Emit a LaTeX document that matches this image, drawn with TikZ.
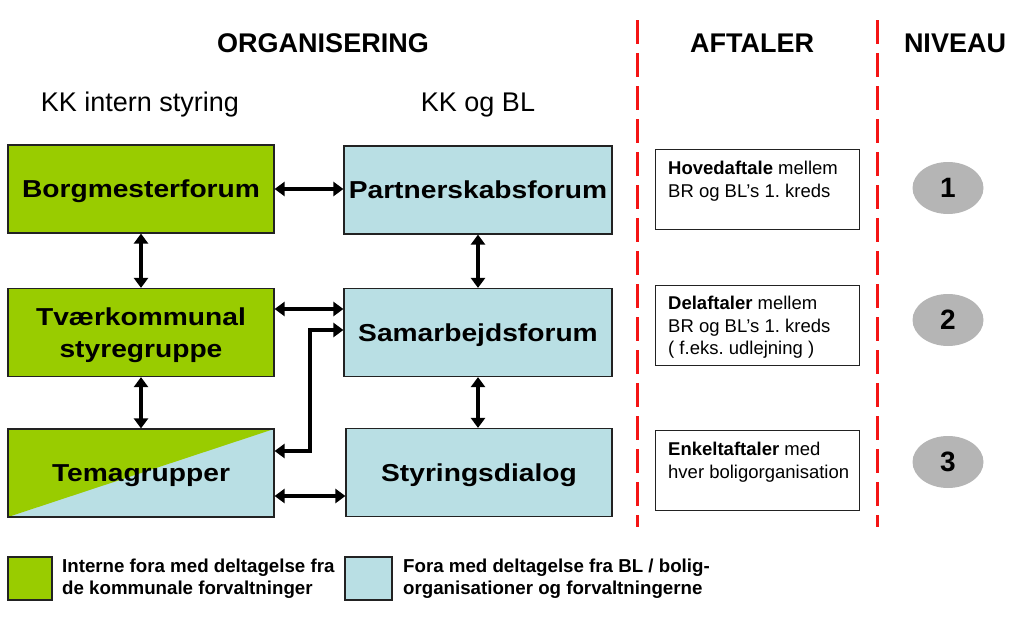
\documentclass[tikz,border=0pt]{standalone}
\usepackage{fontspec}
\setmainfont{Liberation Sans}
\newfontfamily\boxfont[FakeStretch=1.15]{Liberation Sans}
\usetikzlibrary{arrows.meta,shapes.geometric}
\frenchspacing
\definecolor{kgreen}{HTML}{99CC00}
\definecolor{kblue}{HTML}{B9DFE4}
\definecolor{kred}{HTML}{F41414}
\definecolor{kgray}{HTML}{B5B5B5}
\definecolor{kdark}{HTML}{222222}
\tikzset{
  forum/.style={draw=kdark, line width=1.2pt, minimum width=266pt, minimum height=88pt,
    inner sep=0pt, align=center, text=black, text depth=0pt,
    font=\boxfont\bfseries\fontsize{24.5}{32}\selectfont},
  greenbox/.style={forum, fill=kgreen},
  bluebox/.style={forum, fill=kblue},
  link/.style={line width=4pt, black,
    {Triangle[length=10pt,width=14pt]}-{Triangle[length=10pt,width=14pt]}},
  heading/.style={font=\bfseries\fontsize{27}{30}\selectfont},
  subheading/.style={font=\fontsize{27}{30}\selectfont},
  redline/.style={kred, line width=3pt, dash pattern=on 24pt off 9pt},
  agbox/.style={draw=kdark, line width=1pt, minimum width=204pt, minimum height=80pt, inner sep=0pt},
  agtext/.style={anchor=north west, inner sep=0pt, align=left, font=\fontsize{18.5}{22.5}\selectfont},
  level/.style={ellipse, fill=kgray, minimum width=71pt, minimum height=52pt, inner sep=0pt,
    font=\bfseries\fontsize{28}{30}\selectfont},
  legsq/.style={draw=kdark, line width=1.2pt, minimum width=44pt, minimum height=43pt, inner sep=0pt},
  legtext/.style={anchor=west, inner sep=0pt, align=left, font=\bfseries\fontsize{18.7}{21.5}\selectfont},
}
\begin{document}
\begin{tikzpicture}[x=1pt,y=-1pt]
\useasboundingbox (0,0) rectangle (1009,616);

% headings
\node[heading] (hOrg) at (323,43) {ORGANISERING};
\node[heading] (hAft) at (752,43) {AFTALER};
\node[heading] (hNiv) at (955,43) {NIVEAU};
\node[subheading] (hKK) at (140,105) {KK intern styring};
\node[subheading] (hBL) at (478,105) {KK og BL};

% forum boxes
\node[greenbox] (Borg) at (141,189) {Borgmesterforum};
\node[greenbox] (Tvaer) at (141,332.5) {Tværkommunal\\styregruppe};
\node[bluebox, path picture={\fill[kgreen] (path picture bounding box.north west)
   -- (path picture bounding box.north east) -- (path picture bounding box.south west) -- cycle;}]
   (Tema) at (141,473) {Temagrupper};
\node[bluebox, minimum width=268pt] (Partner) at (478,190) {Partnerskabsforum};
\node[bluebox, minimum width=268pt] (Samarb) at (478,332.5) {Samarbejdsforum};
\node[bluebox] (Styring) at (479,472.5) {Styringsdialog};

% connectors
\draw[link] (Borg.east) -- (Borg.east -| Partner.west);
\draw[link] (Borg.south) -- (Tvaer.north);
\draw[link] (Tvaer.south) -- (Tema.north);
\draw[link] (Partner.south) -- (Samarb.north);
\draw[link] (Samarb.south) -- (Samarb.south |- Styring.north);
\draw[link] ([yshift=23.5pt]Tvaer.east) -- ([yshift=23.5pt]Tvaer.east -| Samarb.west);
\draw[link] ([yshift=22pt]Tema.east) -- ++(35,0) |- ([yshift=2.5pt]Samarb.west);
\draw[link] ([yshift=-23pt]Tema.east) -- ([yshift=-23pt]Tema.east -| Styring.west);

% red dashed separators
\coordinate (r1t) at (637,20); \coordinate (r1b) at (637,527);
\coordinate (r2t) at (877,20); \coordinate (r2b) at (877,527);
\draw[redline] (r1t) -- (r1b);
\draw[redline] (r2t) -- (r2b);

% agreements
\node[agbox, anchor=north west] (A1) at (655,149) {};
\node[agbox, anchor=north west] (A2) at (655,285) {};
\node[agbox, anchor=north west] (A3) at (655,430) {};
\node[agtext] (t1) at (668,161) {\textbf{Hovedaftale} mellem\\BR og BL’s 1. kreds};
\node[agtext] (t2) at (668,296) {\textbf{Delaftaler} mellem\\BR og BL’s 1. kreds\\( f.eks. udlejning )};
\node[agtext] (t3) at (668,442) {\textbf{Enkeltaftaler} med\\hver boligorganisation};

% levels
\node[level] (L1) at (948,188) {1};
\node[level] (L2) at (948,320) {2};
\node[level] (L3) at (948,462) {3};

% legend
\node[legsq, fill=kgreen] (g1) at (30,578.5) {};
\node[legtext] (g1t) at (62,578.5) {Interne fora med deltagelse fra\\de kommunale forvaltninger};
\node[legsq, fill=kblue, minimum width=47pt] (g2) at (368.5,578.5) {};
\node[legtext] (g2t) at (403,578.5) {Fora med deltagelse fra BL / bolig-\\organisationer og forvaltningerne};
\end{tikzpicture}
\end{document}
